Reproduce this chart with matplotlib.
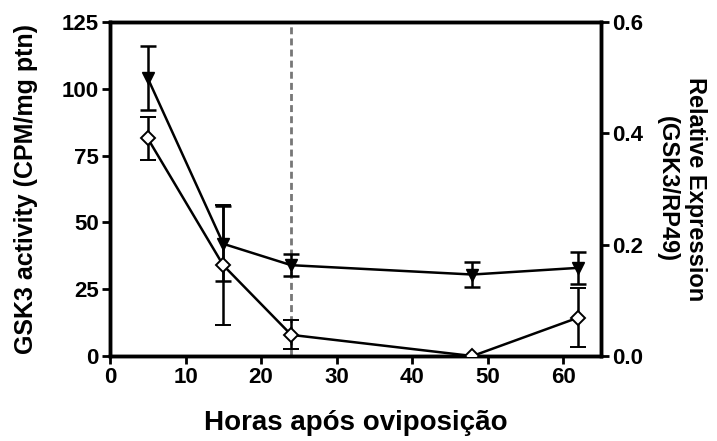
import numpy as np
import matplotlib.pyplot as plt

plt.rcParams['font.family'] = ['Liberation Sans', 'DejaVu Sans']
plt.rcParams['font.weight'] = 'bold'

horas = [5, 15, 24, 48, 62]

# triangles, left axis (CPM/mg ptn)
atividade = [104, 42, 34, 30.5, 33]
atividade_err = [12, 14, 4, 4.7, 6]

# diamonds, right axis (GSK3/RP49)
expressao = [0.391, 0.163, 0.038, 0.0, 0.069]
expressao_err = [0.038, 0.108, 0.026, 0.0, 0.053]

fig = plt.figure(figsize=(7.17, 4.41), dpi=100)
ax = fig.add_axes([0.1534, 0.1927, 0.6846, 0.7573])
ax2 = ax.twinx()

ax.axvline(24, color='#777777', linestyle=(0, (2.5, 1.5)), linewidth=2, zorder=1)

ax.errorbar(horas, atividade, yerr=atividade_err, color='black', marker='v',
            markersize=9, linewidth=1.8, elinewidth=1.8, capsize=6, capthick=1.8, zorder=3)
ax2.errorbar(horas, expressao, yerr=expressao_err, color='black', marker='D',
             markersize=7, markerfacecolor='white', markeredgewidth=1.4,
             linewidth=1.8, elinewidth=1.8, capsize=6, capthick=1.8, zorder=3)

ax.set_xlim(0, 65)
ax.set_ylim(0, 125)
ax2.set_ylim(0, 0.6)
ax.set_xticks([0, 10, 20, 30, 40, 50, 60])
ax.set_yticks([0, 25, 50, 75, 100, 125])
ax2.set_yticks([0.0, 0.2, 0.4, 0.6])
ax2.set_yticklabels(['0.0', '0.2', '0.4', '0.6'])

for a in (ax, ax2):
    for s in a.spines.values():
        s.set_linewidth(2.5)
    a.tick_params(width=2, length=6, labelsize=16, pad=2)
    for lab in a.get_xticklabels() + a.get_yticklabels():
        lab.set_fontweight('bold')

ax.set_ylabel('GSK3 activity (CPM/mg ptn)', fontsize=18, fontweight='bold', labelpad=17)
ax2.set_ylabel('Relative Expression\n(GSK3/RP49)', fontsize=17, fontweight='bold',
               rotation=-90, labelpad=46, linespacing=1.3)
ax.set_xlabel('Horas após oviposição', fontsize=20, fontweight='bold', labelpad=16)

fig.savefig('out.png', dpi=100)
